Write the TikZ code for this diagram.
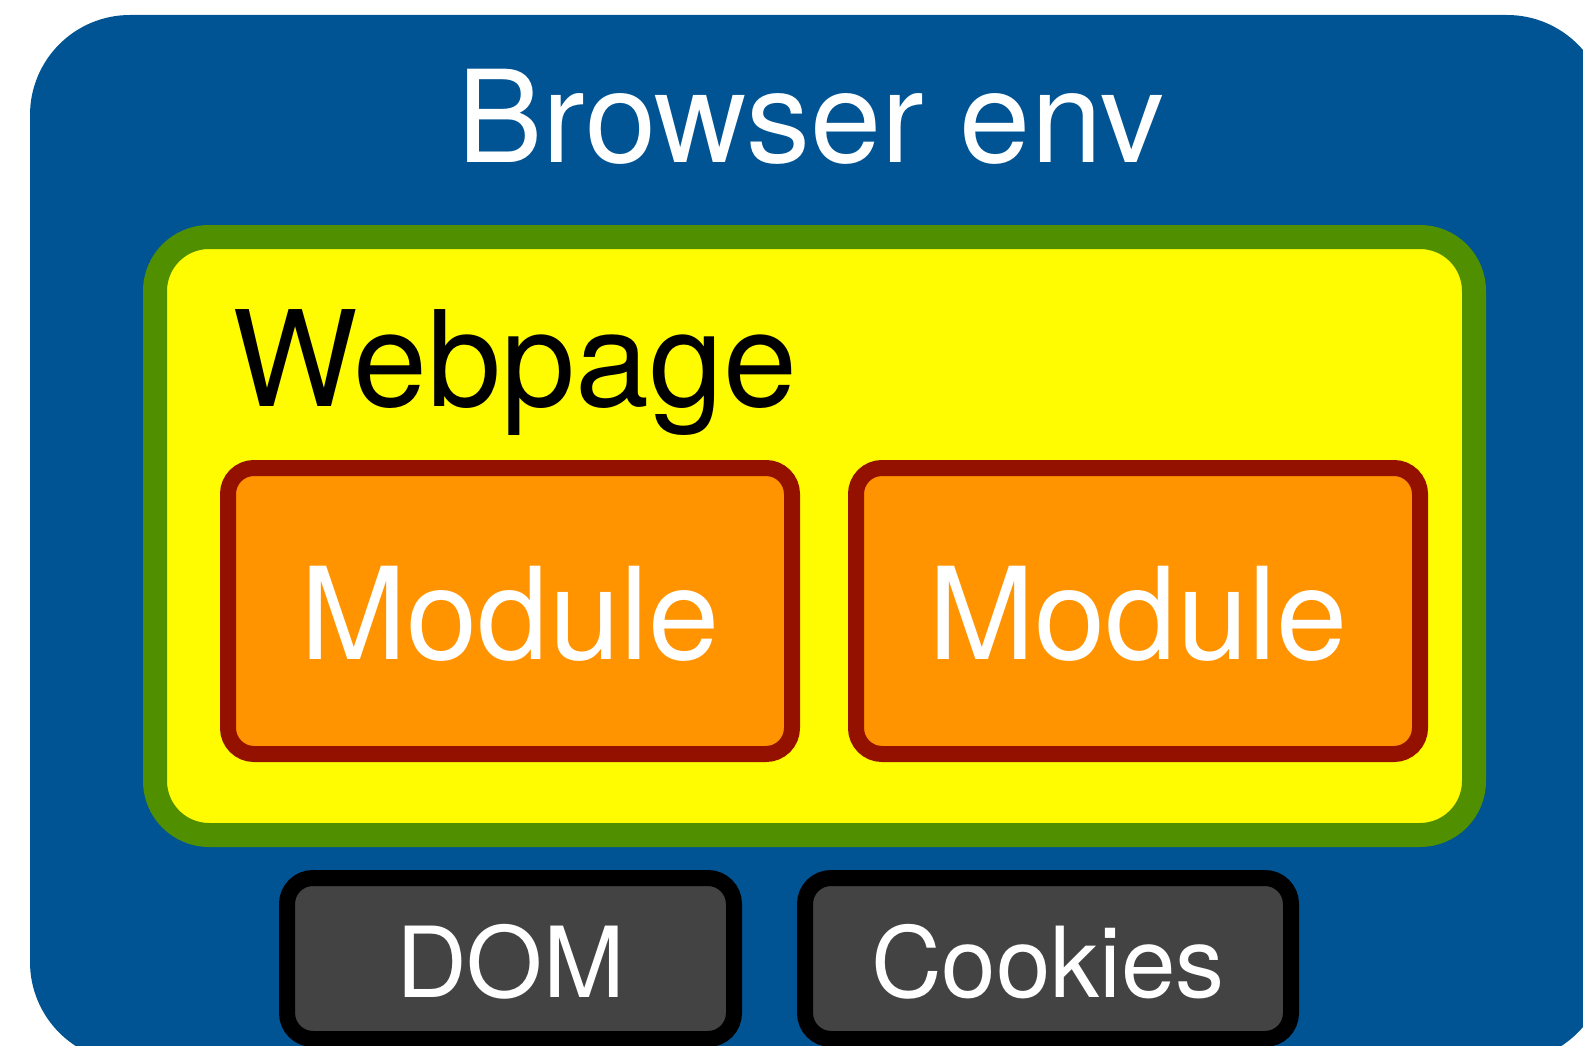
\documentclass[tikz,border=0pt]{standalone}
\usepackage{fontspec}
\setmainfont{TeX Gyre Heros}
\definecolor{ocean}{HTML}{005493}
\definecolor{fern}{HTML}{4F8F00}
\definecolor{lemon}{HTML}{FFFB00}
\definecolor{tangerine}{HTML}{FF9300}
\definecolor{cayenne}{HTML}{941100}
\definecolor{tungsten}{HTML}{434343}

\begin{document}
\begin{tikzpicture}[
    x=1pt, y=-1pt,
    env/.style={rectangle,fill=ocean,rounded corners=100pt,minimum width=1577pt,minimum height=1047pt,inner sep=0pt},
    page/.style={rectangle,draw=fern,fill=lemon,line width=24pt,rounded corners=54pt,minimum width=1319pt,minimum height=598pt,inner sep=0pt},
    module/.style={rectangle,draw=cayenne,fill=tangerine,line width=16pt,rounded corners=26pt,minimum width=564pt,minimum height=286pt,text=white,font=\fontsize{128}{130}\selectfont,text height=96pt,text depth=0pt},
    store/.style={rectangle,draw=black,fill=tungsten,line width=16pt,rounded corners=26pt,minimum height=161pt,text=white,font=\fontsize{98}{100}\selectfont,text height=77pt,text depth=0pt},
    title/.style={inner sep=0pt,font=\fontsize{128}{130}\selectfont},
]

% canvas
\clip (0,0) rectangle (1583,1046);
% browser environment
\node[env] (env) at (818.5,538.5) {};
\node[title,text=white,anchor=base] (envlabel) at (811,163) {Browser env};
% webpage
\node[page] (page) at (814.5,536) {};
\node[title,text=black,anchor=base west,font=\fontsize{133}{135}\selectfont] (pagelabel) at (232,406) {Webpage};
% modules
\node[module] (modleft) at (510,611) {Module};
\node[module] (modright) at (1138,611) {Module};
% storage
\node[store,minimum width=447pt] (dom) at (510.5,958.5) {DOM};
\node[store,minimum width=486pt] (cookies) at (1048,958.5) {Cookies};

\end{tikzpicture}
\end{document}
